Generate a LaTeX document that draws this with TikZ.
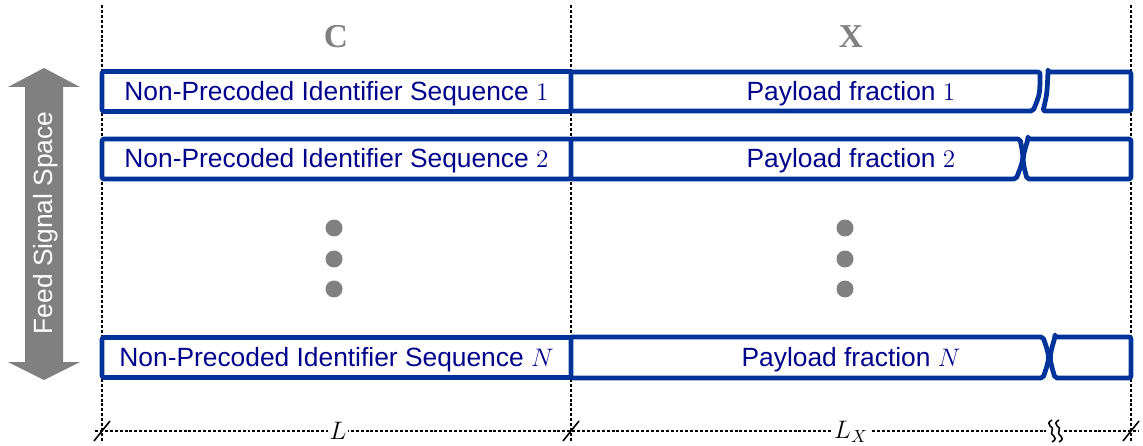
\documentclass[tikz,border=0pt]{standalone}
\usepackage{fontspec}
\setmainfont{Liberation Sans}
\newfontfamily\serifbold{Liberation Serif}
\definecolor{boxblue}{RGB}{0,51,153}
\definecolor{txtblue}{RGB}{0,0,140}
\definecolor{midgray}{RGB}{128,128,128}
\begin{document}
\begin{tikzpicture}[x=0.02cm,y=-0.02cm,
  blk/.style={draw=boxblue,line width=0.095cm,line join=round,rounded corners=0.04cm},
  idbox/.style={blk,minimum width=9.38cm,minimum height=0.8cm,inner sep=0pt,
     text=txtblue,font=\fontsize{15}{18}\selectfont},
  ptext/.style={text=txtblue,font=\fontsize{15}{18}\selectfont,inner sep=0pt},
  guide/.style={line width=0.7pt,dash pattern=on 1.7pt off 1.1pt},
  tick/.style={line width=0.9pt},
  toplab/.style={text=midgray,font=\serifbold\bfseries\fontsize{19}{22}\selectfont},
  dot/.style={fill=midgray,draw=none,circle,minimum size=0.34cm,inner sep=0pt},
  axlab/.style={fill=white,inner sep=1pt,font=\fontsize{14}{16}\selectfont}]
\useasboundingbox (0,0) rectangle (1143,446);
% vertical guides
\foreach \x/\n in {102/a,571/b,1131/c}{
  \coordinate (\n top) at (\x,5);
  \coordinate (\n bot) at (\x,441);
  \draw[guide] (\n top) -- (\n bot);
}
% top labels
\node[toplab] (lc) at (336,37) {C};
\node[toplab] (lx) at (851,37) {X};
% left arrow
\fill[midgray] (44,68) -- (80,87) -- (63,87) -- (63,362) -- (80,362) -- (44,380)
  -- (8,362) -- (25,362) -- (25,87) -- (8,87) -- cycle;
\node[rotate=90,text=white,font=\fontsize{15}{18}\selectfont] (fss) at (46,223) {Feed Signal Space};
% row 1
\draw[blk,fill=white] (571,72) -- (1040,72) .. controls (1040,94) .. (1033,111) -- (571,111);
\draw[blk,fill=white] (1048,72) -- (1131,72) -- (1131,111) -- (1043,111) .. controls (1047,94) .. (1048,72) -- cycle;
\node[idbox,fill=white] (id1) at (336.5,91.5) {};
\node[ptext] (t1) at (336.5,93.5) {Non-Precoded Identifier Sequence $1$};
\node[ptext] (p1) at (851,93.5) {Payload fraction $1$};
% row 2
\draw[blk,fill=white] (571,139) -- (1020,139) .. controls (1024,159) .. (1016,179) -- (571,179);
\draw[blk,fill=white] (1028,139) -- (1131,139) -- (1131,179) -- (1027,179) .. controls (1022,159) .. (1028,139) -- cycle;
\node[idbox,fill=white] (id2) at (336.5,159) {};
\node[ptext] (t2) at (336.5,161) {Non-Precoded Identifier Sequence $2$};
\node[ptext] (p2) at (851,161) {Payload fraction $2$};
% row N
\draw[blk,fill=white] (571,337) -- (1043,337) .. controls (1050,357.5) .. (1043,378) -- (571,378);
\draw[blk,fill=white] (1055,337) -- (1131,337) -- (1131,378) -- (1055,378) .. controls (1049,357.5) .. (1055,337) -- cycle;
\node[idbox,fill=white] (idN) at (336.5,357.5) {};
\node[ptext] (tN) at (336.5,359.5) {Non-Precoded Identifier Sequence $N$};
\node[ptext] (pN) at (851,359.5) {Payload fraction $N$};
% dots
\foreach \y/\k in {228/1,259/2,289/3}{
  \node[dot] (dl\k) at (334,\y) {};
  \node[dot] (dr\k) at (845,\y) {};
}
% bottom axis
\coordinate (ax0) at (95,431);
\coordinate (axb1) at (1046,431);
\coordinate (axb2) at (1064,431);
\coordinate (ax1) at (1138,431);
\draw[guide] (ax0) -- (axb1);
\draw[guide] (axb2) -- (ax1);
\node[axlab] (lL) at (338,431) {$L$};
\node[axlab] (lLx) at (851,432) {$L_X$};
\foreach \x/\n in {102/ta,571/tb,1131/tc}{
  \coordinate (\n1) at (\x-8,441);
  \coordinate (\n2) at (\x+8,421);
  \draw[tick] (\n1) -- (\n2);
}
\coordinate (s1a) at (1052,420);
\coordinate (s1b) at (1052,442);
\coordinate (s2a) at (1059,420);
\coordinate (s2b) at (1059,442);
\draw[tick] (s1a) .. controls (1043,425) and (1056,427) .. (1052,431) .. controls (1048,435) and (1061,437) .. (s1b);
\draw[tick] (s2a) .. controls (1050,425) and (1063,427) .. (1059,431) .. controls (1055,435) and (1068,437) .. (s2b);
\end{tikzpicture}
\end{document}
